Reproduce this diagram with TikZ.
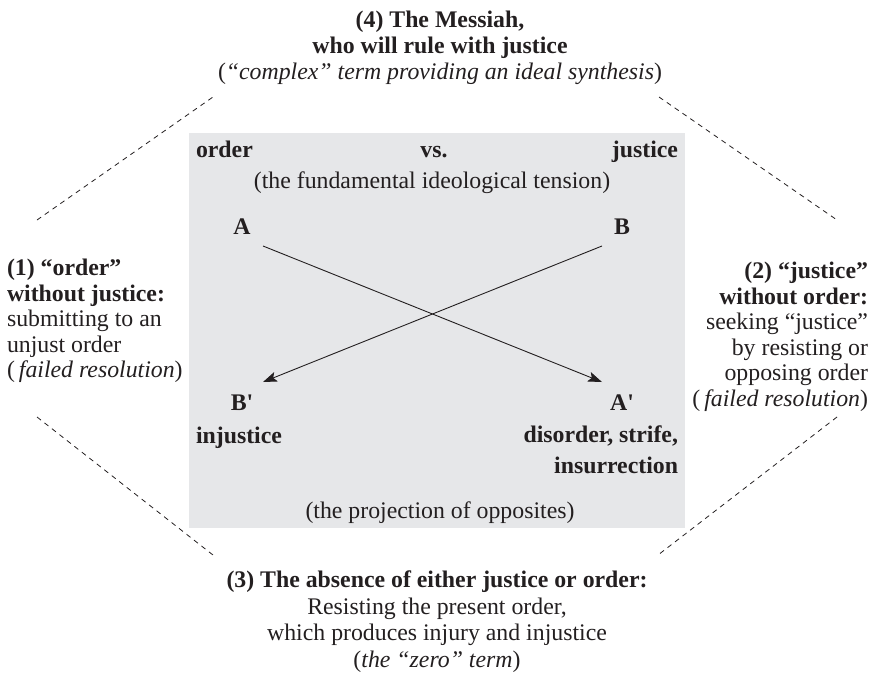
\documentclass[tikz,border=0pt]{standalone}
\usepackage{fontspec}
\setmainfont{Liberation Serif}
\usetikzlibrary{arrows.meta}
\definecolor{boxgray}{RGB}{230,231,233}
\definecolor{ink}{RGB}{35,31,32}
\begin{document}
\begin{tikzpicture}[x=1pt,y=-1pt,
  every node/.style={inner sep=0pt, outer sep=0pt, text=ink, font=\fontsize{23.8}{25.6}\selectfont},
  dashline/.style={draw=ink, line width=0.8pt, dash pattern=on 5pt off 4.5pt},
  arr/.style={draw=ink, line width=0.9pt, -{Stealth[length=14pt,width=10pt,inset=3pt]}}]
\useasboundingbox (0,0) rectangle (878,686);
\fill[boxgray] (189,133) rectangle (685,528);

% outer texts
\node[anchor=north, align=center, font=\fontsize{23.8}{26}\selectfont] (n4) at (440,11)
  {\textbf{(4) The Messiah,}\\ \textbf{who will rule with justice}\\ (\textit{``complex'' term providing an ideal synthesis})};
\node[anchor=north west, align=left] (n1) at (7,259)
  {\textbf{(1) ``order''}\\ \textbf{without justice:}\\ submitting to an\\ unjust order\\ (\,\textit{failed resolution})};
\node[anchor=north east, align=right] (n2) at (868,262)
  {\textbf{(2) ``justice''}\\ \textbf{without order:}\\ seeking ``justice''\\ by resisting or\\ opposing order\\ (\,\textit{failed resolution})};
\node[anchor=north, align=center, font=\fontsize{23.8}{26.5}\selectfont] (n3) at (437,571)
  {\textbf{(3) The absence of either justice or order:}\\ Resisting the present order,\\ which produces injury and injustice\\ (\textit{the ``zero'' term})};

% box texts
\node[anchor=base west] (order) at (196,157) {\textbf{order}};
\node[anchor=base] (vs) at (434,157) {\textbf{vs.}};
\node[anchor=base east] (justice) at (678,157) {\textbf{justice}};
\node[anchor=base] (tension) at (432,188) {(the fundamental ideological tension)};
\node[anchor=base] (A) at (242,234) {\textbf{A}};
\node[anchor=base] (B) at (622,234) {\textbf{B}};
\node[anchor=base] (Bp) at (242,410) {\textbf{B\textquotesingle}};
\node[anchor=base] (Ap) at (622,410) {\textbf{A\textquotesingle}};
\node[anchor=base west] (injustice) at (196,443) {\textbf{injustice}};
\node[anchor=north east, align=right] (disorder) at (678,426)
  {\textbf{disorder, strife,}\\[5pt] \textbf{insurrection}};
\node[anchor=base] (projection) at (440,518) {(the projection of opposites)};

% arrows
\coordinate (As) at (263,246);
\coordinate (Bs) at (602,246);
\coordinate (Ape) at (602,382);
\coordinate (Bpe) at (263,382);
\draw[arr] (As) -- (Ape);
\draw[arr] (Bs) -- (Bpe);

% dashed lines
\coordinate (tl1) at (37,220); \coordinate (tl2) at (213,97);
\coordinate (tr1) at (659,97); \coordinate (tr2) at (837,220);
\coordinate (bl1) at (37,417); \coordinate (bl2) at (213,555);
\coordinate (br1) at (837,417); \coordinate (br2) at (658,555);
\draw[dashline] (tl1) -- (tl2);
\draw[dashline] (tr1) -- (tr2);
\draw[dashline] (bl1) -- (bl2);
\draw[dashline] (br1) -- (br2);
\end{tikzpicture}
\end{document}
